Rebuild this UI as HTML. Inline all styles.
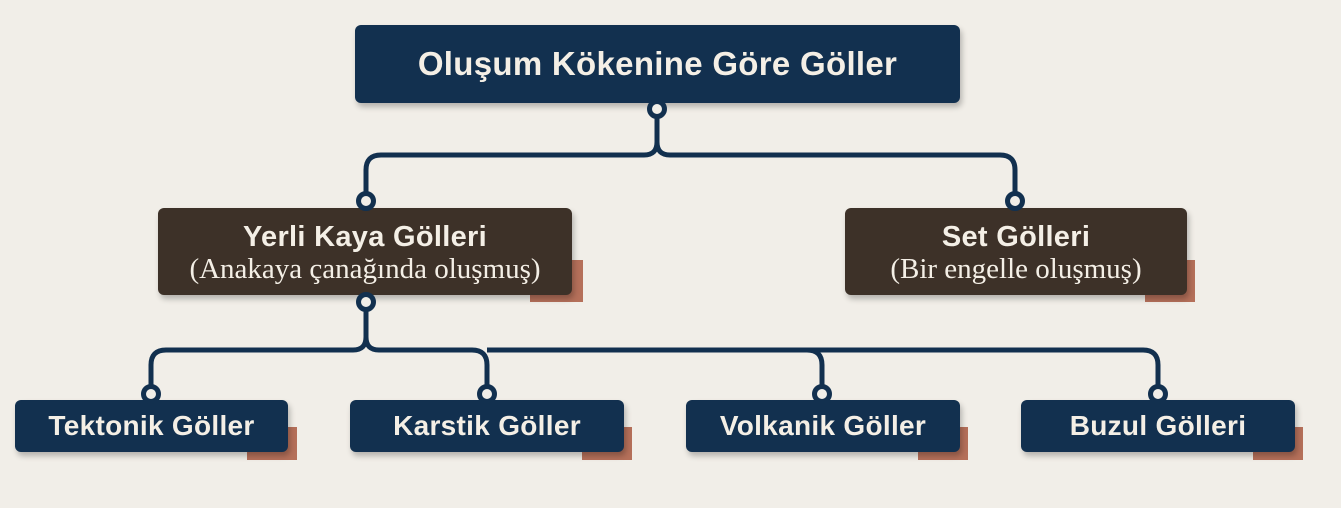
<!DOCTYPE html>
<html><head><meta charset="utf-8"><style>
body{margin:0;width:1341px;height:508px;background:#f1eee8;position:relative;overflow:hidden;font-family:"Liberation Sans",sans-serif}
.b{position:absolute;border-radius:6px;color:#f4efe6;text-align:center;box-shadow:2px 4px 6px rgba(0,0,0,.25);z-index:2;white-space:nowrap}
.n{background:#12304f}.r{background:#3d3128}
.a{position:absolute;background:#b5705a;z-index:1}
.t{font-weight:bold;letter-spacing:0.3px}
.s{font-family:"Liberation Serif",serif;font-size:29px;line-height:32px}
svg{position:absolute;left:0;top:0;z-index:3}
</style></head><body>
<div class="b n t" style="left:355px;top:25px;width:605px;height:78px;line-height:78px;font-size:33px">Oluşum Kökenine Göre Göller</div>
<div class="a" style="left:530px;top:260px;width:53px;height:42px"></div>
<div class="b r" style="left:158px;top:208px;width:414px;height:87px"><div class="t" style="font-size:29px;line-height:32px;margin-top:13px">Yerli Kaya Gölleri</div><div class="s">(Anakaya çanağında oluşmuş)</div></div>
<div class="a" style="left:1145px;top:260px;width:50px;height:42px"></div>
<div class="b r" style="left:845px;top:208px;width:342px;height:87px"><div class="t" style="font-size:29px;line-height:32px;margin-top:13px">Set Gölleri</div><div class="s">(Bir engelle oluşmuş)</div></div>
<div class="a" style="left:247px;top:427px;width:50px;height:33px"></div>
<div class="a" style="left:582px;top:427px;width:50px;height:33px"></div>
<div class="a" style="left:918px;top:427px;width:50px;height:33px"></div>
<div class="a" style="left:1253px;top:427px;width:50px;height:33px"></div>
<div class="b n t" style="left:15px;top:400px;width:273px;height:52px;line-height:52px;font-size:28px">Tektonik Göller</div>
<div class="b n t" style="left:350px;top:400px;width:274px;height:52px;line-height:52px;font-size:28px">Karstik Göller</div>
<div class="b n t" style="left:686px;top:400px;width:274px;height:52px;line-height:52px;font-size:28px">Volkanik Göller</div>
<div class="b n t" style="left:1021px;top:400px;width:274px;height:52px;line-height:52px;font-size:28px">Buzul Gölleri</div>
<svg width="1341" height="508" viewBox="0 0 1341 508">
<g fill="none" stroke="#12304f" stroke-width="5">
<path d="M657 115 V142 Q657 155 644 155 H381 Q366 155 366 170 V195"/>
<path d="M657 142 Q657 155 670 155 H1000 Q1015 155 1015 170 V195"/>
<path d="M366 309 V337 Q366 350 353 350 H166 Q151 350 151 365 V387"/>
<path d="M366 337 Q366 350 379 350 H472 Q487 350 487 365 V387"/>
<path d="M487 350 H807 Q822 350 822 365 V387"/>
<path d="M807 350 H1143 Q1158 350 1158 365 V387"/>
</g>
<g fill="#f1eee8" stroke="#12304f" stroke-width="5">
<circle cx="657" cy="109" r="7.5"/><circle cx="366" cy="201" r="7.5"/><circle cx="1015" cy="201" r="7.5"/>
<circle cx="366" cy="302" r="7.5"/><circle cx="151" cy="394" r="7.5"/><circle cx="487" cy="394" r="7.5"/><circle cx="822" cy="394" r="7.5"/><circle cx="1158" cy="394" r="7.5"/>
</g></svg>
</body></html>
